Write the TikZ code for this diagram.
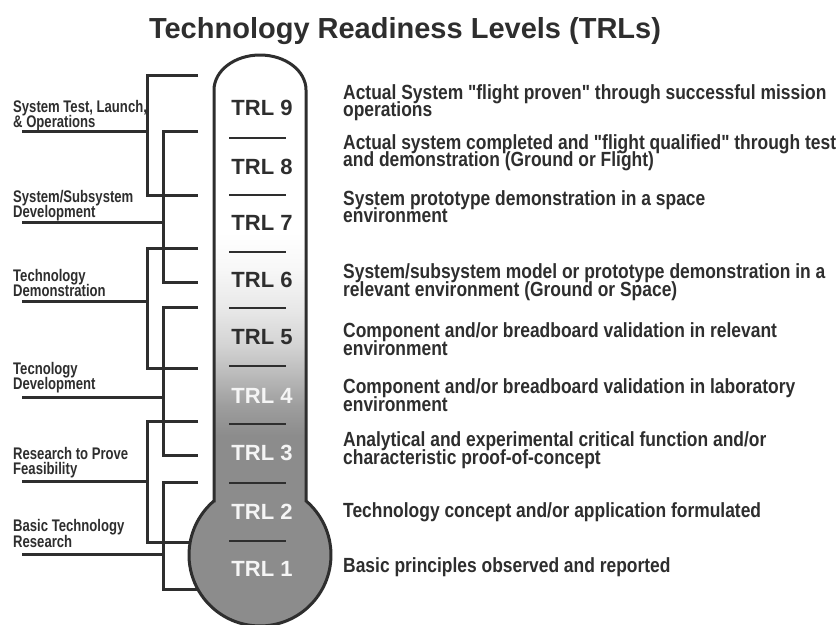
\documentclass[tikz,border=0pt]{standalone}
\usepackage{fontspec}
\setmainfont{Liberation Sans}
\newfontfamily\narrowA{Liberation Sans}[FakeStretch=0.78]
\newfontfamily\narrowB{Liberation Sans}[FakeStretch=0.85]
\definecolor{ink}{HTML}{2E2E2E}
\definecolor{bulbgray}{gray}{0.55}
\definecolor{gA}{gray}{0.62}
\definecolor{gB}{gray}{0.73}
\definecolor{gC}{gray}{0.83}
\definecolor{gD}{gray}{0.91}
\definecolor{gE}{gray}{0.97}
\definecolor{paleW}{gray}{0.96}
\pgfdeclareverticalshading{thermoshade}{100bp}{color(0bp)=(bulbgray); color(42.2bp)=(bulbgray); color(44.8bp)=(gA); color(47.4bp)=(gB); color(50bp)=(gC); color(53.1bp)=(gD); color(56.6bp)=(gE); color(59.7bp)=(white); color(100bp)=(white)}
\newcommand{\twoL}[3]{\vtop{\baselineskip=#1\lineskiplimit=-40pt\lineskip=0pt\hbox{#2}\hbox{#3}}}
\begin{document}
\begin{tikzpicture}[x=1pt,y=-1pt,
  brk/.style={line width=3pt, draw=ink},
  sepline/.style={line width=2.6pt, draw=ink},
  trldark/.style={font=\bfseries\fontsize{22}{24}\selectfont, text=ink, inner sep=0pt},
  trllight/.style={font=\bfseries\fontsize{22}{24}\selectfont, text=paleW, inner sep=0pt},
  stagelab/.style={font=\narrowA\bfseries\fontsize{16.8}{18}\selectfont, text=ink, anchor=base west, inner sep=0pt},
  desclab/.style={font=\narrowB\bfseries\fontsize{20.5}{22}\selectfont, text=ink, anchor=base west, inner sep=0pt}]
\useasboundingbox (0,0) rectangle (838,624);
\fill[white] (0,0) rectangle (838,624);

% title
\node[font=\bfseries\fontsize{29}{32}\selectfont, text=ink, anchor=base, inner sep=0pt] (title) at (405,38) {Technology Readiness Levels (TRLs)};

% stage labels
\node[stagelab] (s1) at (13,112) {\twoL{15pt}{System Test, Launch,}{\& Operations}};
\node[stagelab] (s2) at (13,202) {\twoL{15pt}{System/Subsystem}{Development}};
\node[stagelab] (s3) at (13,281) {\twoL{15.5pt}{Technology}{Demonstration}};
\node[stagelab] (s4) at (13,374) {\twoL{15.5pt}{Tecnology}{Development}};
\node[stagelab] (s5) at (13,459) {\twoL{15pt}{Research to Prove}{Feasibility}};
\node[stagelab] (s6) at (13,531) {\twoL{16pt}{Basic Technology}{Research}};

% bracket coordinates
\coordinate (u1) at (22,131);  \coordinate (m1) at (147,131);
\coordinate (a1) at (198,75);  \coordinate (b1) at (198,195);
\coordinate (u2) at (22,222);  \coordinate (m2) at (163,222);
\coordinate (a2) at (198,131); \coordinate (b2) at (198,282);
\coordinate (u3) at (22,301);  \coordinate (m3) at (147,301);
\coordinate (a3) at (198,248); \coordinate (b3) at (198,368);
\coordinate (u4) at (22,397);  \coordinate (m4) at (163,397);
\coordinate (a4) at (198,307); \coordinate (b4) at (198,455);
\coordinate (u5) at (22,481);  \coordinate (m5) at (147,481);
\coordinate (a5) at (198,421); \coordinate (b5) at (198,542);
\coordinate (u6) at (22,554);  \coordinate (m6) at (163,554);
\coordinate (a6) at (198,482); \coordinate (b6) at (198,589);

\draw[brk] (a1) -| (m1 |- b1) -- (b1);
\draw[brk] (u1) -- (m1);
\draw[brk] (a2) -| (m2 |- b2) -- (b2);
\draw[brk] (u2) -- (m2);
\draw[brk] (a3) -| (m3 |- b3) -- (b3);
\draw[brk] (u3) -- (m3);
\draw[brk] (a4) -| (m4 |- b4) -- (b4);
\draw[brk] (u4) -- (m4);
\draw[brk] (a5) -| (m5 |- b5) -- (b5);
\draw[brk] (u5) -- (m5);
\draw[brk] (a6) -| (m6 |- b6) -- (b6);
\draw[brk] (u6) -- (m6);

% thermometer
\shadedraw[shading=thermoshade, draw=ink, line width=3pt]
  (214,500.9) -- (214,90) arc[start angle=180, end angle=360, x radius=46, y radius=35]
  -- (306,500.9) arc[start angle=-49.6, end angle=229.6, radius=71] -- cycle;

% separators
\foreach \yy in {138,195,252,308,366,424,483,541}
  \draw[sepline] (229,\yy) -- (286,\yy);

% TRL labels
\node[trldark] (t9) at (262,108) {TRL 9};
\node[trldark] (t8) at (262,167) {TRL 8};
\node[trldark] (t7) at (262,223) {TRL 7};
\node[trldark] (t6) at (262,280) {TRL 6};
\node[trldark] (t5) at (262,337) {TRL 5};
\node[trllight] (t4) at (262,396) {TRL 4};
\node[trllight] (t3) at (262,453) {TRL 3};
\node[trllight] (t2) at (262,512) {TRL 2};
\node[trllight] (t1) at (262,569) {TRL 1};

% descriptions
\node[desclab] (d9) at (343,99) {\twoL{17.5pt}{Actual System "flight proven" through successful mission}{operations}};
\node[desclab] (d8) at (343,149) {\twoL{17.5pt}{Actual system completed and "flight qualified" through test}{and demonstration (Ground or Flight)}};
\node[desclab] (d7) at (343,205) {\twoL{17.5pt}{System prototype demonstration in a space}{environment}};
\node[desclab] (d6) at (343,278) {\twoL{18pt}{System/subsystem model or prototype demonstration in a}{relevant environment (Ground or Space)}};
\node[desclab] (d5) at (343,337) {\twoL{18pt}{Component and/or breadboard validation in relevant}{environment}};
\node[desclab] (d4) at (343,393) {\twoL{18pt}{Component and/or breadboard validation in laboratory}{environment}};
\node[desclab] (d3) at (343,446) {\twoL{18pt}{Analytical and experimental critical function and/or}{characteristic proof-of-concept}};
\node[desclab] (d2) at (343,517) {Technology concept and/or application formulated};
\node[desclab] (d1) at (343,572) {Basic principles observed and reported};
\end{tikzpicture}
\end{document}
